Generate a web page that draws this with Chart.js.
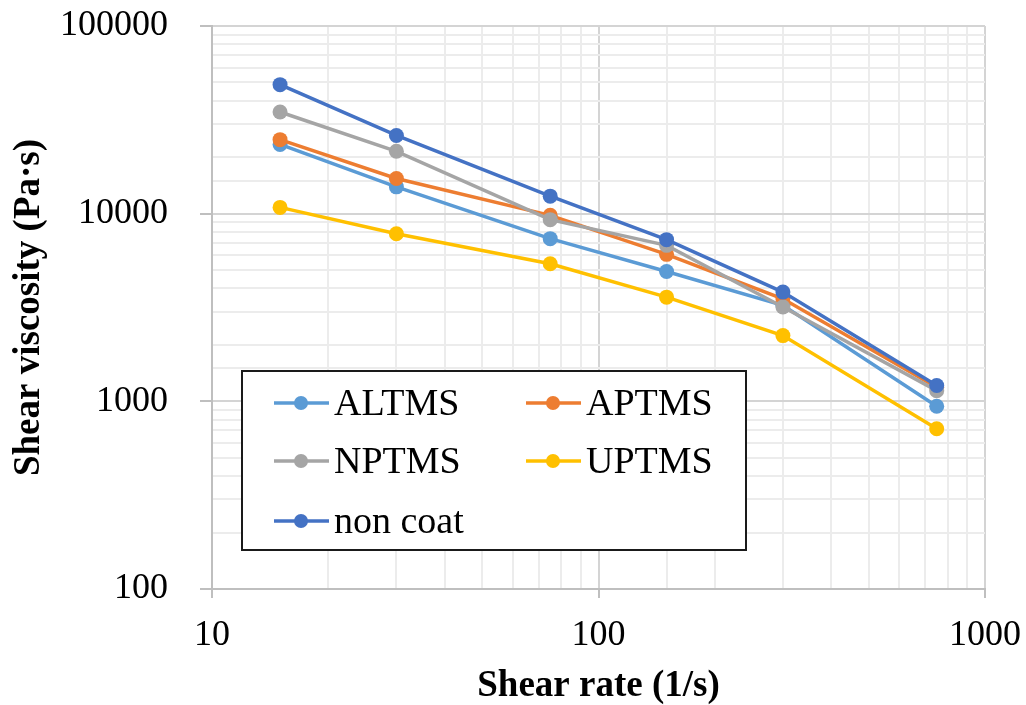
<!DOCTYPE html>
<html>
<head>
<meta charset="utf-8">
<script src="https://cdn.jsdelivr.net/npm/chart.js@4/dist/chart.umd.min.js"></script>
<style>
  html, body { margin: 0; padding: 0; background: #fff; }
  #wrap { width: 1026px; height: 705px; }
</style>
</head>
<body>
<div id="wrap"><canvas id="chart" width="1026" height="705"></canvas></div>
<script>
// shear rate (1/s)
let shearRate = [15, 30, 75, 150, 300, 750];

// shear viscosity (Pa·s) per coating
let altms = [23400, 13900, 7360, 4920, 3250, 942];
let aptms = [24800, 15400, 9800, 6070, 3520, 1190];
let nptms = [34800, 21500, 9290, 6780, 3180, 1140];
let uptms = [10800, 7820, 5410, 3590, 2240, 714];
let nonCoat = [48700, 26100, 12400, 7270, 3820, 1215];

let seriesNames = ["ALTMS", "APTMS", "NPTMS", "UPTMS", "non coat"];
let seriesColors = ["#5B9BD5", "#ED7D31", "#A5A5A5", "#FFC000", "#4472C4"];

let xTicks = [10, 100, 1000];
let yTicks = [100, 1000, 10000, 100000];

const serif = "'Liberation Serif', 'Times New Roman', serif";

function toPoints(ys) {
  return ys.map((y, i) => ({ x: shearRate[i], y: y }));
}

function isMajor(v, list) {
  return list.indexOf(v) !== -1;
}

let allSeries = [altms, aptms, nptms, uptms, nonCoat];

let datasets = allSeries.map((ys, i) => ({
  label: seriesNames[i],
  data: toPoints(ys),
  borderColor: seriesColors[i],
  backgroundColor: seriesColors[i],
  borderWidth: 3.5,
  pointRadius: 7.5,
  pointHoverRadius: 7.5,
  pointBorderWidth: 0,
  tension: 0,
  // later series sit on top
  order: allSeries.length - i
}));

// boxed two-column legend inside the plot
const boxLegend = {
  id: "boxLegend",
  afterDraw(chart) {
    const ctx = chart.ctx;
    const box = { x: 242, y: 371, w: 504, h: 179 };
    ctx.save();
    ctx.fillStyle = "#fff";
    ctx.fillRect(box.x, box.y, box.w, box.h);
    ctx.strokeStyle = "#1a1a1a";
    ctx.lineWidth = 2;
    ctx.strokeRect(box.x, box.y, box.w, box.h);

    const cols = [274, 526];
    const rows = [403, 461, 521];
    ctx.font = "38px " + serif;
    ctx.textBaseline = "middle";
    ctx.textAlign = "left";
    chart.data.datasets.forEach((ds, i) => {
      const cx = cols[i % 2];
      const cy = rows[Math.floor(i / 2)];
      ctx.strokeStyle = ds.borderColor;
      ctx.lineWidth = 3.5;
      ctx.beginPath();
      ctx.moveTo(cx, cy);
      ctx.lineTo(cx + 55, cy);
      ctx.stroke();
      ctx.fillStyle = ds.backgroundColor;
      ctx.beginPath();
      ctx.arc(cx + 27, cy, 7, 0, Math.PI * 2);
      ctx.fill();
      ctx.fillStyle = "#000";
      ctx.fillText(ds.label, cx + 60, cy + 2);
    });
    ctx.restore();
  }
};

function gridColor(list) {
  return (c) => isMajor(c.tick && c.tick.value, list) ? "#d4d4d4" : "#ececec";
}

function tickColor(list) {
  return (c) => isMajor(c.tick && c.tick.value, list) ? "#bfbfbf" : "rgba(0,0,0,0)";
}

let ctx = document.getElementById("chart").getContext("2d");

let chart = new Chart(ctx, {
  type: "line",
  data: { datasets: datasets },
  options: {
    responsive: false,
    animation: false,
    layout: { padding: 0 },
    plugins: {
      legend: { display: false },
      tooltip: { enabled: false }
    },
    scales: {
      x: {
        type: "logarithmic",
        min: 10,
        max: 1000,
        afterFit(scale) {
          scale.height = 116;
          // room kept right of the plot
          scale.paddingLeft = 0;
          scale.paddingRight = 41;
        },
        border: { color: "#bfbfbf", width: 2 },
        grid: {
          color: gridColor(xTicks),
          lineWidth: 2,
          tickLength: 9,
          tickColor: tickColor(xTicks),
          tickWidth: 2
        },
        ticks: {
          autoSkip: false,
          maxRotation: 0,
          padding: 16,
          color: "#000",
          font: { family: serif, size: 36 },
          callback: (v) => isMajor(v, xTicks) ? String(v) : ""
        },
        title: {
          display: true,
          text: "Shear rate (1/s)",
          color: "#000",
          padding: { top: 0, bottom: 0 },
          font: { family: serif, size: 37, weight: "bold", lineHeight: 1 }
        }
      },
      y: {
        type: "logarithmic",
        min: 100,
        max: 100000,
        afterFit(scale) {
          scale.width = 212;
          // room kept above the plot
          scale.paddingTop = 26;
          scale.paddingBottom = 0;
        },
        border: { color: "#bfbfbf", width: 2 },
        grid: {
          color: gridColor(yTicks),
          lineWidth: 2,
          tickLength: 12,
          tickColor: tickColor(yTicks),
          tickWidth: 2
        },
        ticks: {
          autoSkip: false,
          padding: 32,
          color: "#000",
          font: { family: serif, size: 36 },
          callback: (v) => isMajor(v, yTicks) ? String(v) : ""
        },
        title: {
          display: true,
          text: "Shear viscosity (Pa·s)",
          color: "#000",
          padding: { top: 11, bottom: 0 },
          font: { family: serif, size: 37, weight: "bold", lineHeight: 1 }
        }
      }
    }
  },
  plugins: [boxLegend]
});
</script>
</body>
</html>
